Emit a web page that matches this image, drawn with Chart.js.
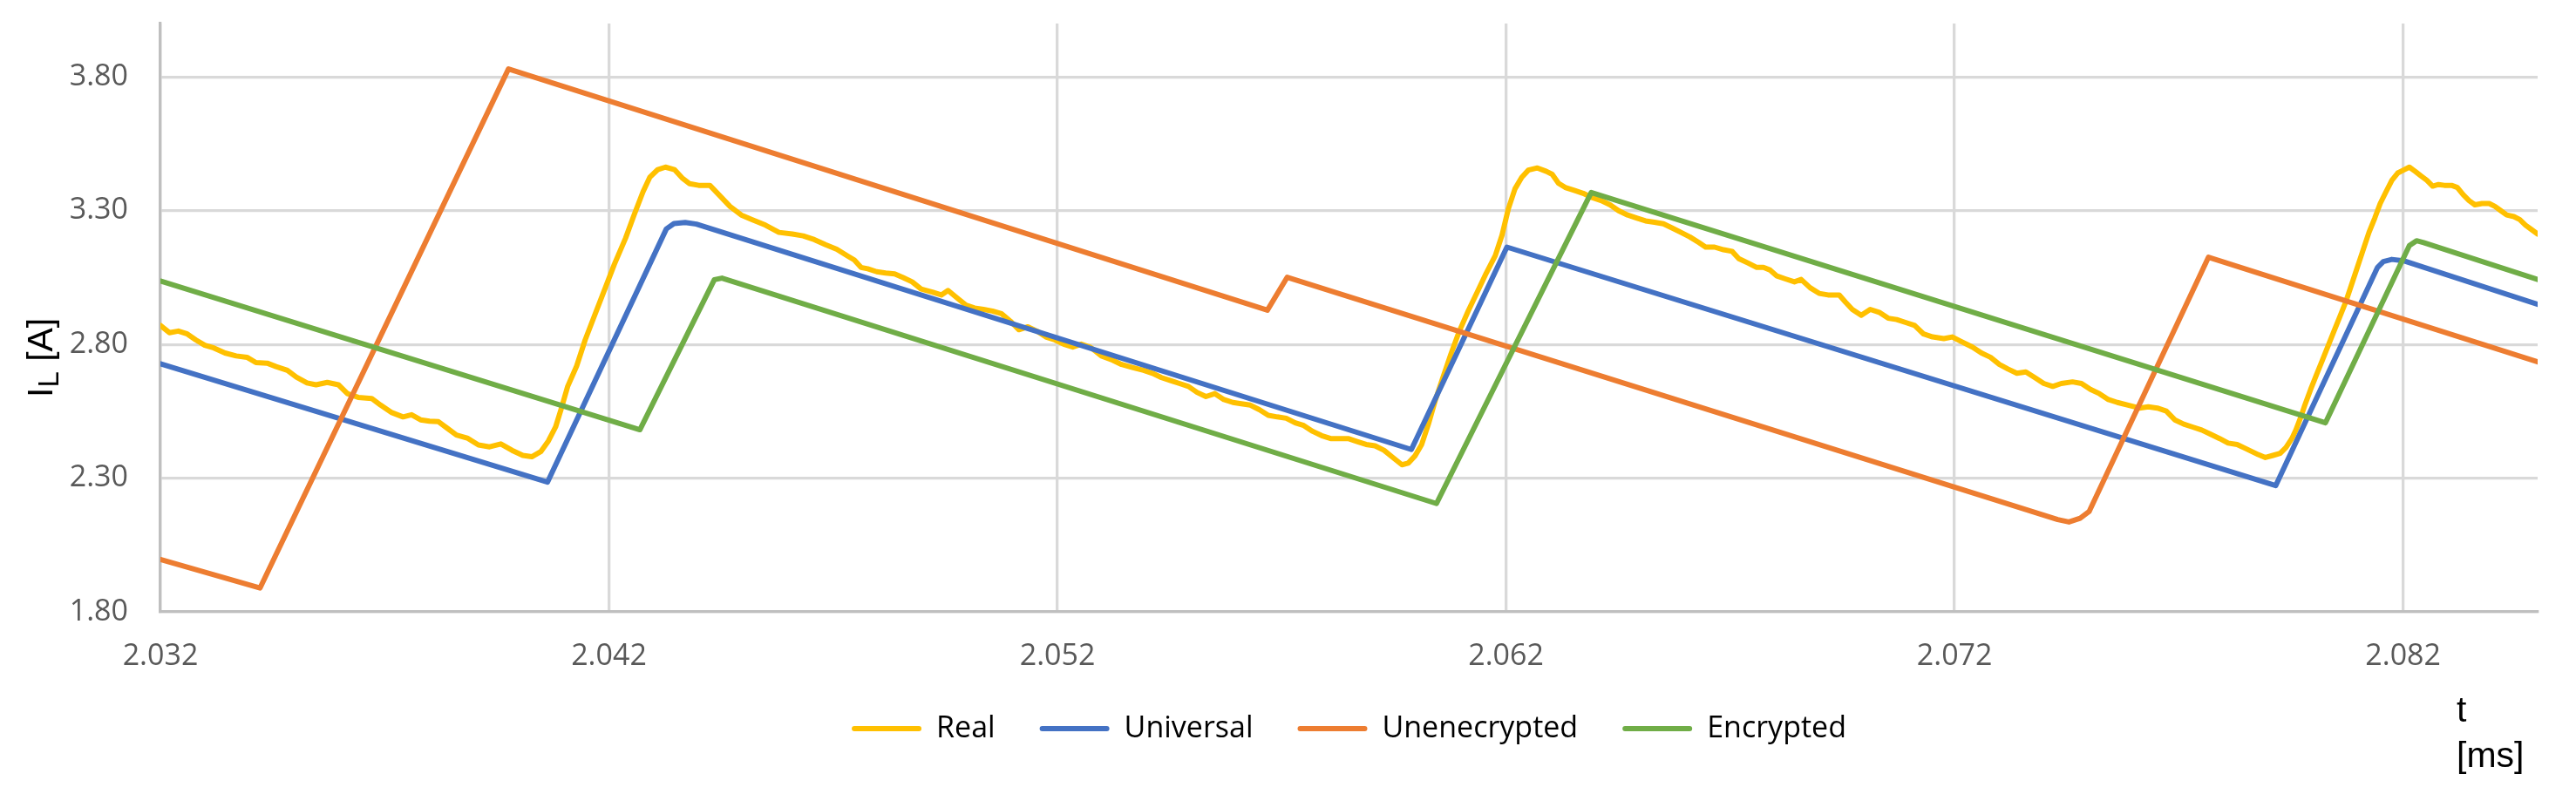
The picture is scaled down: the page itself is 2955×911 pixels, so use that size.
<!DOCTYPE html>
<html>
<head>
<meta charset="utf-8">
<script src="https://cdn.jsdelivr.net/npm/chart.js@4.4.1/dist/chart.umd.min.js"></script>
<style>
  html, body { margin: 0; padding: 0; background: #ffffff; }
  canvas { display: block; }
</style>
</head>
<body>
<canvas id="c" width="2955" height="911"></canvas>
<script>
// ---------- data ----------
const seriesNames = ['Real', 'Universal', 'Unenecrypted', 'Encrypted'];
const seriesColors = ['#FFC000', '#4472C4', '#ED7D31', '#70AD47'];

const xTickValues = [2.032, 2.042, 2.052, 2.062, 2.072, 2.082];
const yTickValues = [1.80, 2.30, 2.80, 3.30, 3.80];

const tReal = [
  2.03200, 2.03220, 2.03240, 2.03260, 2.03279, 2.03299, 2.03319, 2.03344, 2.03369, 2.03393,
  2.03413, 2.03438, 2.03458, 2.03483, 2.03503, 2.03527, 2.03547, 2.03572, 2.03597, 2.03617,
  2.03641, 2.03671, 2.03691, 2.03716, 2.03741, 2.03760, 2.03780, 2.03800, 2.03820, 2.03840,
  2.03860, 2.03884, 2.03909, 2.03934, 2.03959, 2.03984, 2.04008, 2.04028, 2.04048, 2.04065,
  2.04081, 2.04093, 2.04108, 2.04128, 2.04147, 2.04167, 2.04192, 2.04212, 2.04237, 2.04256,
  2.04276, 2.04291, 2.04309, 2.04326, 2.04346, 2.04363, 2.04380, 2.04400, 2.04425, 2.04445,
  2.04470, 2.04495, 2.04519, 2.04549, 2.04579, 2.04609, 2.04633, 2.04658, 2.04683, 2.04708,
  2.04733,
  2.04747, 2.04762, 2.04777, 2.04797, 2.04817, 2.04837, 2.04856, 2.04876, 2.04896, 2.04921,
  2.04941, 2.04956, 2.04976, 2.04996, 2.05015, 2.05035, 2.05055, 2.05075, 2.05095, 2.05114,
  2.05134, 2.05154, 2.05174, 2.05194, 2.05214, 2.05234, 2.05253, 2.05273, 2.05298, 2.05323,
  2.05343, 2.05367, 2.05392, 2.05412, 2.05432, 2.05452, 2.05472, 2.05492, 2.05511, 2.05531,
  2.05551, 2.05571, 2.05591, 2.05610, 2.05630, 2.05650, 2.05670, 2.05690, 2.05710, 2.05730,
  2.05749, 2.05769, 2.05789, 2.05809, 2.05829, 2.05848, 2.05868, 2.05888, 2.05908, 2.05928,
  2.05948, 2.05968, 2.05982, 2.05997, 2.06012, 2.06027, 2.06042, 2.06057, 2.06077, 2.06096,
  2.06116, 2.06136, 2.06156, 2.06176, 2.06191, 2.06205, 2.06220, 2.06235, 2.06250, 2.06270,
  2.06290,
  2.06303, 2.06317, 2.06332, 2.06352, 2.06372, 2.06392, 2.06412, 2.06432, 2.06451, 2.06471,
  2.06491, 2.06511, 2.06531, 2.06551, 2.06571, 2.06590, 2.06610, 2.06630, 2.06645, 2.06665,
  2.06685, 2.06704, 2.06719, 2.06739, 2.06759, 2.06774, 2.06789, 2.06804, 2.06823, 2.06843,
  2.06858, 2.06878, 2.06898, 2.06918, 2.06943, 2.06957, 2.06972, 2.06992, 2.07012, 2.07032,
  2.07052, 2.07071, 2.07091, 2.07111, 2.07131, 2.07151, 2.07176, 2.07195, 2.07215, 2.07240,
  2.07260, 2.07280, 2.07300, 2.07319, 2.07339, 2.07359, 2.07379, 2.07399, 2.07419, 2.07438,
  2.07463, 2.07483, 2.07503, 2.07523, 2.07543, 2.07563, 2.07587, 2.07612, 2.07632, 2.07652,
  2.07672, 2.07691, 2.07711, 2.07731, 2.07751, 2.07771, 2.07791, 2.07810, 2.07830, 2.07850,
  2.07877, 2.07893, 2.07910, 2.07926, 2.07939, 2.07952, 2.07961, 2.07971, 2.07981, 2.07994,
  2.08007, 2.08020, 2.08033, 2.08046, 2.08059, 2.08072, 2.08085, 2.08098, 2.08111, 2.08124,
  2.08137, 2.08149, 2.08162, 2.08175, 2.08188, 2.08201, 2.08214, 2.08227, 2.08240, 2.08253,
  2.08266, 2.08279, 2.08292, 2.08308, 2.08321, 2.08334, 2.08347, 2.08360, 2.08376, 2.08392,
  2.08405, 2.08418, 2.08431, 2.08447, 2.08460, 2.08473, 2.08486, 2.08500
];
const vReal = [
  2.871, 2.844, 2.850, 2.839, 2.817, 2.797, 2.787, 2.768, 2.757, 2.752,
  2.732, 2.730, 2.717, 2.703, 2.678, 2.656, 2.649, 2.658, 2.649, 2.616,
  2.602, 2.598, 2.573, 2.545, 2.529, 2.537, 2.518, 2.513, 2.511, 2.486,
  2.461, 2.450, 2.424, 2.417, 2.428, 2.404, 2.385, 2.380, 2.399, 2.439,
  2.491, 2.556, 2.643, 2.719, 2.817, 2.904, 3.012, 3.099, 3.197, 3.284,
  3.371, 3.425, 3.454, 3.463, 3.454, 3.423, 3.401, 3.395, 3.395, 3.360,
  3.316, 3.284, 3.267, 3.246, 3.219, 3.213, 3.206, 3.192, 3.173, 3.156,
  3.130,
  3.116, 3.088, 3.083, 3.072, 3.067, 3.064, 3.050, 3.034, 3.007, 2.996,
  2.985, 3.002, 2.974, 2.947, 2.936, 2.931, 2.925, 2.915, 2.887, 2.855,
  2.866, 2.850, 2.828, 2.817, 2.801, 2.790, 2.801, 2.790, 2.757, 2.741,
  2.725, 2.714, 2.703, 2.692, 2.676, 2.665, 2.654, 2.643, 2.621, 2.605,
  2.616, 2.594, 2.583, 2.578, 2.573, 2.556, 2.535, 2.529, 2.524, 2.507,
  2.497, 2.475, 2.459, 2.448, 2.448, 2.448, 2.437, 2.426, 2.421, 2.404,
  2.377, 2.350, 2.356, 2.383, 2.426, 2.502, 2.589, 2.665, 2.763, 2.850,
  2.926, 2.996, 3.067, 3.132, 3.208, 3.306, 3.382, 3.425, 3.452, 3.460,
  3.447,
  3.436, 3.403, 3.387, 3.376, 3.365, 3.349, 3.338, 3.322, 3.300, 3.284,
  3.273, 3.262, 3.257, 3.251, 3.235, 3.219, 3.202, 3.181, 3.164, 3.164,
  3.154, 3.148, 3.121, 3.105, 3.088, 3.088, 3.078, 3.056, 3.045, 3.034,
  3.043, 3.012, 2.991, 2.985, 2.985, 2.958, 2.931, 2.909, 2.931, 2.920,
  2.898, 2.893, 2.882, 2.871, 2.839, 2.828, 2.822, 2.828, 2.811, 2.790,
  2.768, 2.752, 2.725, 2.708, 2.692, 2.697, 2.676, 2.654, 2.643, 2.654,
  2.660, 2.654, 2.632, 2.616, 2.594, 2.583, 2.573, 2.562, 2.567, 2.562,
  2.551, 2.518, 2.502, 2.491, 2.480, 2.464, 2.448, 2.431, 2.426, 2.410,
  2.388, 2.377, 2.385, 2.393, 2.415, 2.448, 2.480, 2.524, 2.573, 2.632,
  2.687, 2.741, 2.795, 2.850, 2.904, 2.958, 3.023, 3.088, 3.154, 3.219,
  3.273, 3.327, 3.371, 3.414, 3.441, 3.452, 3.463, 3.447, 3.430, 3.414,
  3.392, 3.398, 3.395, 3.395, 3.387, 3.360, 3.338, 3.322, 3.327, 3.327,
  3.316, 3.300, 3.284, 3.278, 3.267, 3.246, 3.230, 3.213
];

const tUniversal = [2.032, 2.04063, 2.04328, 2.04345, 2.04370, 2.04395, 2.05989, 2.06202, 2.07916, 2.08143, 2.08156, 2.08175, 2.08201, 2.085];
const vUniversal = [2.728, 2.285, 3.232, 3.252, 3.256, 3.250, 2.407, 3.164, 2.272, 3.088, 3.110, 3.118, 3.113, 2.950];

const tUnencrypted = [2.032, 2.03422, 2.03976, 2.05668, 2.05712, 2.07430, 2.07455, 2.07480, 2.07500, 2.07766, 2.085];
const vUnencrypted = [1.996, 1.889, 3.830, 2.928, 3.051, 2.145, 2.136, 2.150, 2.175, 3.126, 2.735];

const tEncrypted = [2.032, 2.04269, 2.04435, 2.04452, 2.06045, 2.0639, 2.08027, 2.08214, 2.08230, 2.08246, 2.085];
const vEncrypted = [3.037, 2.481, 3.042, 3.048, 2.205, 3.368, 2.507, 3.170, 3.188, 3.181, 3.043];

const yTitleMain = 'I';
const yTitleSub = 'L';
const yTitleUnit = ' [A]';
const xTitleLines = ['t', '[ms]'];

// ---------- chart ----------
const zip = (ts, vs) => ts.map((t, i) => ({ x: t, y: vs[i] }));
const tickFont = { family: "'Open Sans', sans-serif", size: 34 };
const titleFont = '"Liberation Sans", Arial, sans-serif';

function mkDataset(i, ts, vs) {
  return {
    label: seriesNames[i],
    data: zip(ts, vs),
    borderColor: seriesColors[i],
    backgroundColor: seriesColors[i],
    borderWidth: 6,
    pointRadius: 0,
    pointHoverRadius: 0,
    fill: false,
    tension: 0,
    borderJoinStyle: 'round',
    borderCapStyle: 'round',
    order: 4 - i
  };
}

const titlesPlugin = {
  id: 'axisTitles',
  afterDraw(chart) {
    const ctx = chart.ctx;
    ctx.save();
    ctx.fillStyle = '#000000';
    ctx.textAlign = 'left';
    ctx.textBaseline = 'alphabetic';
    // vertical axis title (rotated)
    ctx.save();
    ctx.translate(60, 456);
    ctx.rotate(-Math.PI / 2);
    ctx.font = '41px ' + titleFont;
    ctx.fillText(yTitleMain, 0, 0);
    let w = ctx.measureText(yTitleMain).width;
    ctx.font = '33px ' + titleFont;
    ctx.fillText(yTitleSub, w, 7);
    w += ctx.measureText(yTitleSub).width;
    ctx.font = '41px ' + titleFont;
    ctx.fillText(yTitleUnit, w, 0);
    ctx.restore();
    // horizontal axis title (two lines, bottom right)
    ctx.font = '41px ' + titleFont;
    ctx.fillText(xTitleLines[0], 2818, 828);
    ctx.fillText(xTitleLines[1], 2818, 880);
    ctx.restore();
  }
};

new Chart(document.getElementById('c'), {
  type: 'line',
  data: {
    datasets: [
      mkDataset(0, tReal, vReal),
      mkDataset(1, tUniversal, vUniversal),
      mkDataset(2, tUnencrypted, vUnencrypted),
      mkDataset(3, tEncrypted, vEncrypted)
    ]
  },
  plugins: [titlesPlugin],
  options: {
    responsive: false,
    animation: false,
    events: [],
    layout: { padding: { left: 0, right: 44, top: 27, bottom: 48 } },
    scales: {
      x: {
        type: 'linear',
        min: 2.032,
        max: 2.085,
        afterBuildTicks: s => { s.ticks = xTickValues.map(v => ({ value: v })); },
        afterFit: s => { s.height = 66; s.paddingLeft = 0; s.paddingRight = 0; s.paddingTop = 0; s.paddingBottom = 0; },
        ticks: {
          font: tickFont, color: '#595959', padding: 31,
          maxRotation: 0, autoSkip: false,
          callback: v => Number(v).toFixed(3)
        },
        grid: { color: '#d9d9d9', lineWidth: 3.3, drawTicks: false },
        border: { color: '#bfbfbf', width: 3.3 }
      },
      y: {
        type: 'linear',
        min: 1.8,
        max: 4.0,
        afterBuildTicks: s => { s.ticks = yTickValues.map(v => ({ value: v })); },
        afterFit: s => { s.width = 184; s.paddingTop = 0; s.paddingBottom = 0; s.paddingLeft = 0; s.paddingRight = 0; },
        ticks: {
          font: tickFont, color: '#595959', padding: 37,
          callback: v => Number(v).toFixed(2)
        },
        grid: { color: '#d9d9d9', lineWidth: 3.3, drawTicks: false },
        border: { color: '#bfbfbf', width: 3.3 }
      }
    },
    plugins: {
      tooltip: { enabled: false },
      legend: {
        position: 'bottom',
        fullSize: false,
        labels: {
          boxWidth: 80,
          boxHeight: 6,
          padding: 51,
          font: tickFont,
          color: '#595959',
          generateLabels: chart => chart.data.datasets.map((ds, i) => ({
            text: ds.label,
            fillStyle: ds.borderColor,
            strokeStyle: ds.borderColor,
            lineWidth: 0,
            borderRadius: 3,
            hidden: false,
            datasetIndex: i
          }))
        }
      }
    }
  }
});
</script>
</body>
</html>
